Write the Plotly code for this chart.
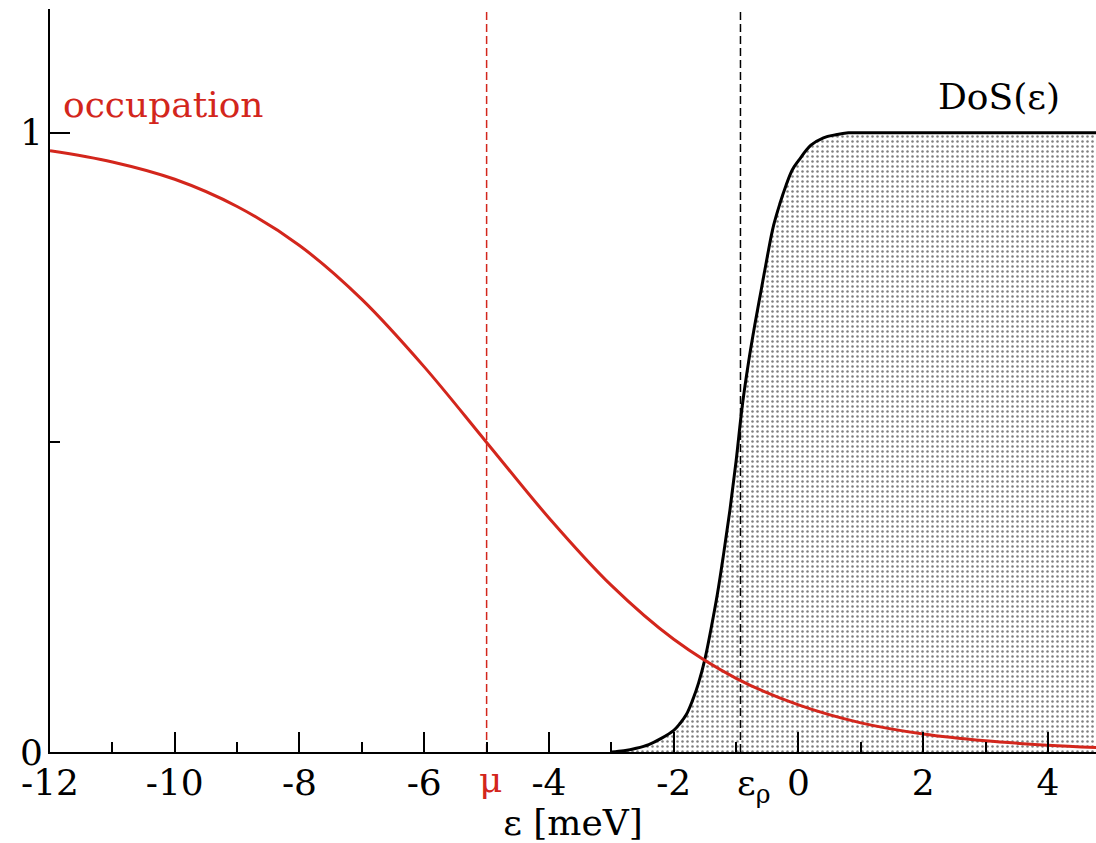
import plotly.graph_objects as go

# ---- data ----
occ_energy = [-12, -11, -10, -9, -8, -7, -6, -5, -4, -3, -2, -1, 0, 1, 2, 3, 4, 4.8]
occ_value = [0.971, 0.953, 0.925, 0.881, 0.818, 0.731, 0.622, 0.500, 0.378, 0.269,
             0.182, 0.119, 0.076, 0.047, 0.029, 0.018, 0.011, 0.007]

dos_energy = [-3.0, -2.8, -2.6, -2.4, -2.2, -2.0, -1.9, -1.8, -1.7, -1.6, -1.5, -1.4,
              -1.3, -1.2, -1.1, -1.0, -0.9, -0.8, -0.7, -0.6, -0.5, -0.4, -0.3, -0.2,
              -0.1, 0.0, 0.2, 0.4, 0.6, 0.8, 1.0, 4.8]
dos_value = [0.0, 0.002, 0.006, 0.012, 0.022, 0.035, 0.046, 0.060, 0.083, 0.112, 0.150, 0.200,
             0.255, 0.320, 0.390, 0.470, 0.560, 0.630, 0.690, 0.745, 0.800, 0.850, 0.885, 0.915,
             0.940, 0.955, 0.980, 0.992, 0.997, 1.0, 1.0, 1.0]

mu = -5.0
eps_rho = -0.93

x_major = [-12, -10, -8, -6, -4, -2, 0, 2, 4]
x_major_text = ["-12", "-10", "-8", "-6", "-4", "-2", "0", "2", "4"]
x_minor = [-11, -9, -7, -5, -3, -1, 1, 3]
y_major = [0, 1]
y_minor = [0.5]

x_range = [-12, 4.77]
y_range = [0, 1.2]

RED = "#d3261c"
FONT = "DejaVu Serif"
FS = 36

fig = go.Figure()

fig.add_trace(go.Scatter(
    x=dos_energy, y=dos_value, mode="lines", line=dict(color="black", width=3, shape="spline"),
    fill="tozeroy", fillcolor="rgba(0,0,0,0)",
    fillpattern=dict(shape=".", fgcolor="black", bgcolor="white", size=5, solidity=0.2),
    showlegend=False, hoverinfo="skip"))

fig.add_trace(go.Scatter(
    x=[eps_rho, eps_rho], y=y_range, mode="lines",
    line=dict(color="black", width=1.5, dash="8px,4px"), showlegend=False, hoverinfo="skip"))

fig.add_trace(go.Scatter(
    x=[mu, mu], y=y_range, mode="lines",
    line=dict(color=RED, width=1.5, dash="8px,4px"), showlegend=False, hoverinfo="skip"))

fig.add_trace(go.Scatter(
    x=occ_energy, y=occ_value, mode="lines", line=dict(color=RED, width=3, shape="spline"),
    showlegend=False, hoverinfo="skip"))

axis_common = dict(showgrid=False, zeroline=False, showline=True, linecolor="black", linewidth=2,
                   ticks="inside", tickcolor="black", tickwidth=2)

fig.update_layout(
    width=1096, height=843,
    margin=dict(l=50, r=0, t=9, b=91),
    paper_bgcolor="white", plot_bgcolor="white",
    font=dict(family=FONT, size=FS, color="black"),
    xaxis=dict(range=x_range, tickvals=x_major, ticktext=x_major_text, ticklen=20,
               minor=dict(tickvals=x_minor, ticklen=10, ticks="inside", tickcolor="black", tickwidth=2),
               tickfont=dict(family=FONT, size=FS), ticklabelstandoff=-2,
               title=dict(text="ε [meV]", font=dict(family=FONT, size=FS), standoff=2),
               **axis_common),
    xaxis2=dict(range=x_range, overlaying="x", matches="x", side="top", tickvals=x_major,
                showticklabels=False, ticklen=20,
                minor=dict(tickvals=x_minor, ticklen=10, ticks="inside", tickcolor="black", tickwidth=2),
                **axis_common),
    yaxis=dict(range=y_range, tickvals=y_major, ticktext=["0", "1"], ticklen=20,
               minor=dict(tickvals=y_minor, ticklen=10, ticks="inside", tickcolor="black", tickwidth=2),
               tickfont=dict(family=FONT, size=FS), ticklabelstandoff=-2, **axis_common),
)

fig.add_annotation(x=-11.82, y=1.045, xref="x", yref="y", text="occupation", showarrow=False,
                   xanchor="left", yanchor="middle", font=dict(family=FONT, size=FS, color=RED))
fig.add_annotation(x=2.2, y=1.058, xref="x", yref="y", text="DoS(ε)", showarrow=False,
                   xanchor="left", yanchor="middle", font=dict(family=FONT, size=FS, color="black"))
fig.add_annotation(x=mu, y=0, xref="x", yref="paper", text="μ", showarrow=False, xshift=4,
                   yshift=-27, xanchor="center", yanchor="middle",
                   font=dict(family=FONT, size=FS, color=RED))
fig.add_annotation(x=eps_rho, y=0, xref="x", yref="paper", text="ε<sub>ρ</sub>", showarrow=False,
                   xshift=13, yshift=-33, xanchor="center", yanchor="middle",
                   font=dict(family=FONT, size=FS, color="black"))

fig.write_html("out.html")
